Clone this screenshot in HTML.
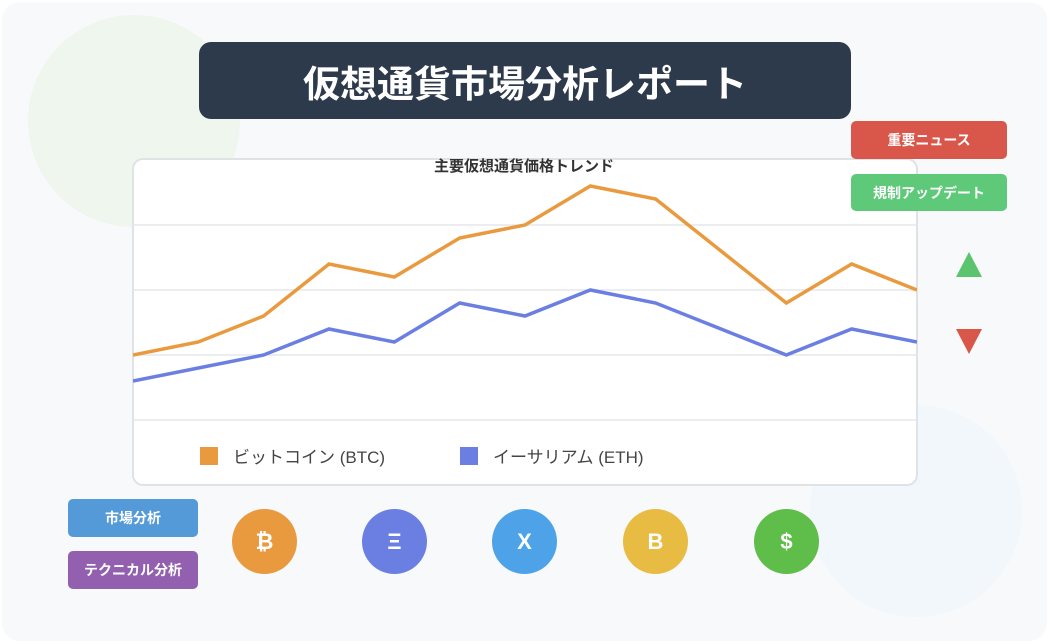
<!DOCTYPE html>
<html><head><meta charset="utf-8"><style>
body{margin:0;width:1064px;height:644px;background:#fff;font-family:"Liberation Sans","Noto Sans CJK JP",sans-serif;position:relative;overflow:hidden}
.abs{position:absolute}
.btn{position:absolute;color:#fff;font-weight:bold;font-size:14px;display:flex;align-items:center;justify-content:center;border-radius:5px}
.coin{position:absolute;width:65px;height:65px;border-radius:50%;color:#fff;font-weight:bold;font-size:22px;display:flex;align-items:center;justify-content:center;top:509px}
</style></head><body>
<div class="abs" style="left:2px;top:2px;width:1045px;height:639px;background:#f7f9fb;border-radius:18px;overflow:hidden">
 <div class="abs" style="left:26px;top:13px;width:212px;height:212px;border-radius:50%;background:#eef6ee"></div>
 <div class="abs" style="left:808px;top:403px;width:212px;height:212px;border-radius:50%;background:#f2f7fc"></div>
</div>
<div class="abs" style="left:199px;top:42px;width:652px;height:77px;background:#2d3a4b;border-radius:12px;color:#fff;font-weight:bold;font-size:37px;display:flex;align-items:center;justify-content:center">仮想通貨市場分析レポート</div>
<svg id="chart" class="abs" style="left:0;top:0" width="1064" height="644"></svg>
<div class="btn" style="left:851px;top:121px;width:156px;height:38px;background:#d9574a">重要ニュース</div>
<div class="btn" style="left:851px;top:174px;width:156px;height:37px;background:#5fc97a">規制アップデート</div>
<svg class="abs" style="left:950px;top:250px" width="40" height="110">
 <polygon points="19,2 32,27 6,27" fill="#5cc46e"/>
 <polygon points="6,79 32,79 19,104" fill="#d9574a"/>
</svg>
<div class="btn" style="left:68px;top:499px;width:130px;height:38px;background:#5499d8">市場分析</div>
<div class="btn" style="left:68px;top:551px;width:130px;height:38px;background:#9360b0">テクニカル分析</div>
<div class="coin" style="left:232px;background:#e99a3e">₿</div>
<div class="coin" style="left:362px;background:#6b7fe3">Ξ</div>
<div class="coin" style="left:492px;background:#4ea3e8">X</div>
<div class="coin" style="left:623px;background:#e8bb42">B</div>
<div class="coin" style="left:754px;background:#5fbd4a">$</div>
<script>
const categories=["1","2","3","4","5","6","7","8","9","10","11","12","13"];
const btcValues=[10,12,16,24,22,28,30,36,34,26,18,24,20];
const ethValues=[6,8,10,14,12,18,16,20,18,14,10,14,12];
const gridTicks=[0,10,20,30];
const NS="http://www.w3.org/2000/svg";
const svg=document.getElementById('chart');
const L=133,R=917,T=159,B=485;
const x=i=>L+i*(R-L)/(categories.length-1);
const y=v=>420-v*6.5;
function mk(t,a){const e=document.createElementNS(NS,t);for(const k in a)e.setAttribute(k,a[k]);svg.appendChild(e);return e;}
const box=mk('rect',{x:L,y:T,width:R-L,height:B-T,rx:10,fill:'#fff',stroke:'#dfe2e6','stroke-width':2});


const defs=mk('defs',{});
const cp=document.createElementNS(NS,'clipPath');cp.setAttribute('id','cp');
const cr=document.createElementNS(NS,'rect');cr.setAttribute('x',L);cr.setAttribute('y',T);cr.setAttribute('width',R-L);cr.setAttribute('height',B-T);
cp.appendChild(cr);defs.appendChild(cp);
gridTicks.forEach(v=>{const g=mk('line',{x1:L,x2:R,y1:y(v),y2:y(v),stroke:'#e5e7ea','stroke-width':1.5});

});
const t=mk('text',{x:524,y:171,'text-anchor':'middle','font-size':15,'font-weight':'bold',fill:'#333'});t.textContent='主要仮想通貨価格トレンド';


function line(vals,color,name){const p=mk('polyline',{points:vals.map((v,i)=>x(i)+','+y(v)).join(' '),fill:'none',stroke:color,'stroke-width':3.5,'stroke-linejoin':'miter','clip-path':'url(#cp)'});

}
line(btcValues,'#ea9a3e','btc-line');
line(ethValues,'#6b7fe3','eth-line');
function leg(px,color,label,name){const r=mk('rect',{x:px,y:447,width:18,height:18,fill:color});


const tx=mk('text',{x:px+33,y:463,'font-size':17,fill:'#444'});tx.textContent=label;

}
leg(200,'#ea9a3e','ビットコイン (BTC)','legend-btc');
leg(460,'#6b7fe3','イーサリアム (ETH)','legend-eth');
</script>
</body></html>
